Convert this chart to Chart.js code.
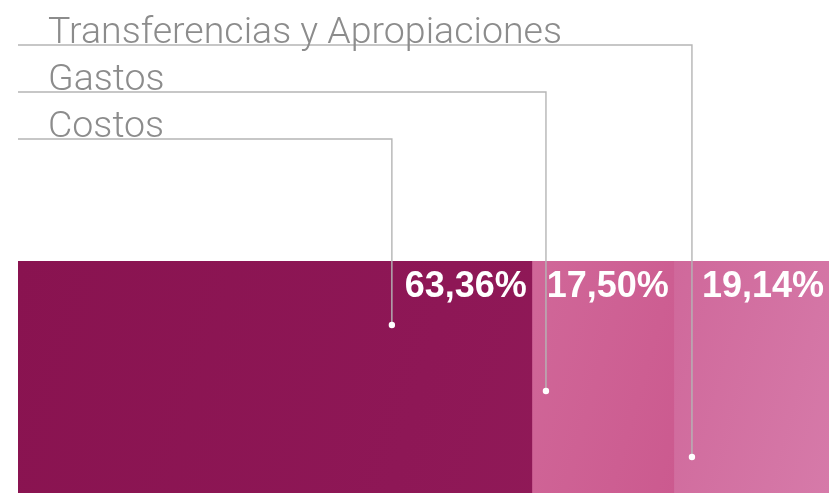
<!DOCTYPE html>
<html>
<head>
<meta charset="utf-8">
<script src="https://cdn.jsdelivr.net/npm/chart.js@4/dist/chart.umd.min.js"></script>
<style>
  html, body { margin: 0; padding: 0; background: #ffffff; }
  #wrap { width: 829px; height: 493px; position: relative; }
</style>
</head>
<body>
<div id="wrap"><canvas id="c" width="829" height="493"></canvas></div>
<script>
// ---- data ----
const categories = ["Composición"];
const seriesNames = ["Costos", "Gastos", "Transferencias y Apropiaciones"];
const costos = [63.36];
const gastos = [17.50];
const transferencias = [19.14];

// ---- styles ----
const colorStops = [
  ["#891350", "#8e1756", "#931d5a"],
  ["#c24380", "#d26c9c", "#c85088"],
  ["#bd3f7b", "#c9578d", "#d67aa9"]
];
function grad(ctx, i) {
  const chart = ctx.chart;
  const a = chart.chartArea;
  if (!a) return colorStops[i][0];
  const el = ctx.element;
  const s = colorStops[i];
  let x0 = a.left, x1 = a.right;
  if (el && el.base !== undefined) { x0 = Math.min(el.base, el.x); x1 = Math.max(el.base, el.x); }
  const g = chart.ctx.createLinearGradient(x0, a.top, x1, a.bottom);
  g.addColorStop(0, s[0]);
  g.addColorStop(0.5, s[1]);
  g.addColorStop(1, s[2]);
  return g;
}

// leader layout (value on the axis where the leader drops, dot y)
const leaderOpts = {
  anchorValues: [46.1, 65.1, 83.1],
  lineY: [139, 92, 45],
  dotY: [325, 391, 457],
  textX: 48,
  lineStartX: 18
};

const leaderPlugin = {
  id: 'leaders',
  afterDatasetsDraw(chart) {
    const ctx = chart.ctx;
    const xs = chart.scales.x;
    ctx.save();
    // percent labels
    chart.data.datasets.forEach((ds, i) => {
      const meta = chart.getDatasetMeta(i);
      const bar = meta.data[0];
      const v = ds.data[0];
      ctx.font = "bold 36px 'Liberation Sans', Arial, sans-serif";
      ctx.fillStyle = "#ffffff";
      ctx.textAlign = "right";
      ctx.textBaseline = "alphabetic";
      ctx.fillText(v.toFixed(2).replace('.', ',') + '%', bar.x - 5, 297);
    });
    // leaders
    chart.data.datasets.forEach((ds, i) => {
      const ax = xs.getPixelForValue(leaderOpts.anchorValues[i]);
      const ly = leaderOpts.lineY[i];
      const dy = leaderOpts.dotY[i];
      ctx.strokeStyle = "#b5b5b5";
      ctx.lineWidth = 1.4;
      ctx.beginPath();
      ctx.moveTo(leaderOpts.lineStartX, ly);
      ctx.lineTo(ax, ly);
      ctx.lineTo(ax, dy);
      ctx.stroke();
      ctx.fillStyle = "#ffffff";
      ctx.beginPath();
      ctx.arc(ax, dy, 3.2, 0, Math.PI * 2);
      ctx.fill();
      ctx.fillStyle = "#8c8c8c";
      ctx.font = "300 37.5px Roboto, 'Open Sans', sans-serif";
      ctx.textAlign = "left";
      ctx.textBaseline = "alphabetic";
      ctx.fillText(ds.label, leaderOpts.textX, ly - 2);
    });
    ctx.restore();
  }
};

new Chart(document.getElementById('c'), {
  type: 'bar',
  data: {
    labels: categories,
    datasets: [
      { label: seriesNames[0], data: costos, backgroundColor: c => grad(c, 0) },
      { label: seriesNames[1], data: gastos, backgroundColor: c => grad(c, 1) },
      { label: seriesNames[2], data: transferencias, backgroundColor: c => grad(c, 2) }
    ]
  },
  options: {
    indexAxis: 'y',
    responsive: false,
    animation: false,
    layout: { padding: { top: 261, left: 18, right: 0, bottom: 0 } },
    datasets: { bar: { categoryPercentage: 1, barPercentage: 1, borderWidth: 0 } },
    scales: {
      x: { stacked: true, min: 0, max: 100, display: false },
      y: { stacked: true, display: false }
    },
    plugins: { legend: { display: false }, tooltip: { enabled: false } }
  },
  plugins: [leaderPlugin]
});
</script>
</body>
</html>
